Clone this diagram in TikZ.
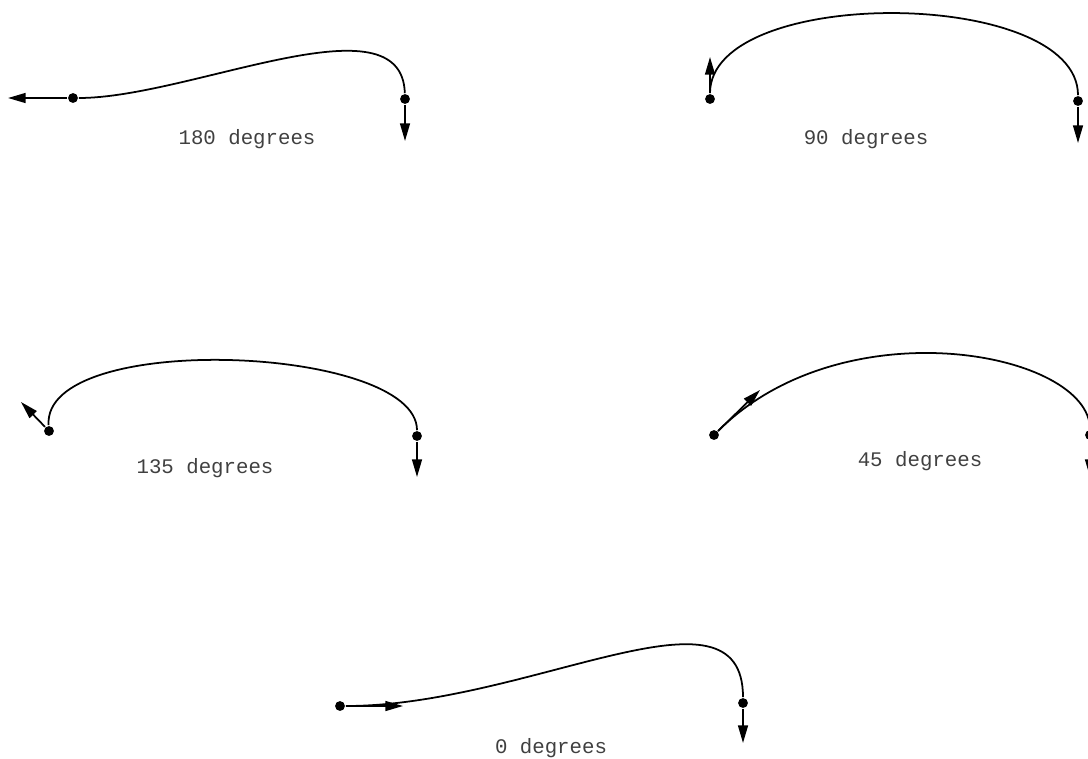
\documentclass[tikz,border=0pt]{standalone}
\usepackage{fontspec}
\usepackage{tikz}
\usetikzlibrary{arrows.meta,positioning}
\newfontfamily\degfont{Liberation Mono}

\begin{document}
\begin{tikzpicture}[% all in pixels of the plot, y runs down
      x=0.02cm, y=-0.02cm,
      line width=1pt,
      endpt/.style={circle,fill=black,inner sep=0pt,minimum size=5.6pt}, % the knots
      deg/.style={font=\degfont\fontsize{11.8pt}{14pt}\selectfont,text=black!75},
      every edge/.style={draw,line width=1pt,-{Triangle[length=10pt,width=5.6pt]}}
    ]
    \useasboundingbox (0,0) rectangle (1088,758);
    % 180 degrees
    \node[endpt](S180) at (73,98){};
    \node[endpt](E180) at (405,99){};
    \coordinate (A180) at (8,98);
    \coordinate (B180) at (405,141);
    \node[deg](L180) at (247,139){180 degrees};
    \draw (S180) .. controls (190,98) and (402,-5) .. (E180);
    \path (S180)edge (A180)
    (E180)edge (B180);
    % 90 degrees
    \node[endpt](S90) at (710,99){};
    \node[endpt](E90) at (1078,101){};
    \coordinate (A90) at (710,57);
    \coordinate (B90) at (1078,143);
    \node[deg](L90) at (866,139){90 degrees};
    \draw (S90) .. controls (710,-15) and (1078,-13) .. (E90);
    \path (S90)edge (A90)
    (E90)edge (B90);
    % 135 degrees
    \node[endpt](S135) at (49,431){};
    \node[endpt](E135) at (417,436){};
    \coordinate (A135) at (21,402);
    \coordinate (B135) at (417,477);
    \node[deg](L135) at (205,468){135 degrees};
    \draw (S135) .. controls (42,330) and (417,345) .. (E135);
    \path (S135)edge (A135)
    (E135)edge (B135);
    % 45 degrees
    \node[endpt](S45) at (714,435){};
    \node[endpt](E45) at (1090,435){};
    \coordinate (A45) at (760,390);
    \coordinate (B45) at (1090,477);
    \node[deg](L45) at (920,461){45 degrees};
    \draw (S45) .. controls (844,305) and (1090,352) .. (E45);
    \path (S45)edge (A45)
    (E45)edge (B45);
    % 0 degrees
    \node[endpt](S0) at (340,706){};
    \node[endpt](E0) at (743,703){};
    \coordinate (A0) at (403,706);
    \coordinate (B0) at (743,743);
    \node[deg](L0) at (551,748){0 degrees};
    \draw (S0) .. controls (530,706) and (743,573) .. (E0);
    \path (S0)edge (A0)
    (E0)edge (B0);
  \end{tikzpicture}
\end{document}
